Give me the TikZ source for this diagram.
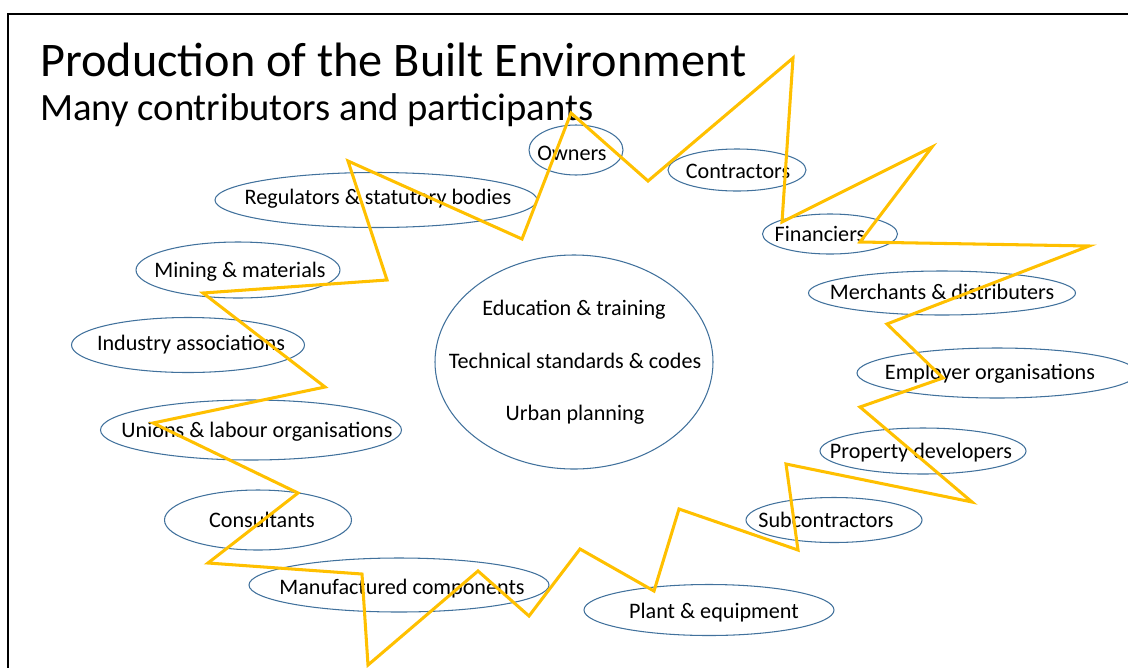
\documentclass[tikz,border=0pt]{standalone}
\usepackage{fontspec}
\setmainfont{Carlito}
\usetikzlibrary{shapes.geometric}
\definecolor{zigcolor}{RGB}{255,192,0}
\definecolor{ovalcolor}{RGB}{65,113,156}
\def\pxl{0.03cm}

\begin{document}
\begin{tikzpicture}[x=\pxl, y=-\pxl,
  party/.style={ellipse, draw=ovalcolor, line width=0.9pt, inner sep=0pt},
  who/.style={font=\fontsize{18.9}{22}\selectfont, inner sep=0pt, text height=1.3em, text depth=0pt},
  zig/.style={draw=zigcolor, line width=2.6pt}]
\useasboundingbox (0,0) rectangle (1128,667);

% slide frame
\draw[line width=2.2pt] (8,700) |- (1160,14);

% heading
\node[anchor=base west, inner sep=0pt, font=\fontsize{41.2}{48}\selectfont] (title) at (40,76) {Production of the Built Environment};
\node[anchor=base west, inner sep=0pt, font=\fontsize{33}{40}\selectfont] (subtitle) at (40,120) {Many contributors and participants};

% centre
\node[party, minimum width=278*\pxl, minimum height=214*\pxl] (core) at (574,362) {};
\node[who] (edu) at (574,308) {Education \& training};
\node[who] (std) at (575,361) {Technical standards \& codes};
\node[who] (urb) at (575,413) {Urban planning};

% participants round the centre
\node[party, minimum width=94*\pxl, minimum height=50*\pxl] (own) at (576,150) {};
\node[who] (owntxt) at (572,153) {Owners};
\node[party, minimum width=138*\pxl, minimum height=42*\pxl] (con) at (737,170) {};
\node[who] (contxt) at (738,171) {Contractors};
\node[party, minimum width=135*\pxl, minimum height=40*\pxl] (fin) at (830,234) {};
\node[who] (fintxt) at (820,234) {Financiers};
\node[party, minimum width=267*\pxl, minimum height=44*\pxl] (mer) at (942,293) {};
\node[who] (mertxt) at (942,292) {Merchants \& distributers};
\node[party, minimum width=280*\pxl, minimum height=50*\pxl] (emp) at (997,373) {};
\node[who] (emptxt) at (990,372) {Employer organisations};
\node[party, minimum width=206*\pxl, minimum height=46*\pxl] (dev) at (923,451) {};
\node[who] (devtxt) at (921,451) {Property developers};
\node[party, minimum width=176*\pxl, minimum height=45*\pxl] (sub) at (834,520) {};
\node[who] (subtxt) at (826,520) {Subcontractors};
\node[party, minimum width=250*\pxl, minimum height=51*\pxl] (pla) at (709,610) {};
\node[who] (platxt) at (714,611) {Plant \& equipment};
\node[party, minimum width=300*\pxl, minimum height=54*\pxl] (man) at (399,585) {};
\node[who] (mantxt) at (402,587) {Manufactured components};
\node[party, minimum width=187*\pxl, minimum height=60*\pxl] (cst) at (258,520) {};
\node[who] (csttxt) at (262,520) {Consultants};
\node[party, minimum width=301*\pxl, minimum height=60*\pxl] (uni) at (251,430) {};
\node[who] (unitxt) at (257,430) {Unions \& labour organisations};
\node[party, minimum width=233*\pxl, minimum height=55*\pxl] (ind) at (188,345) {};
\node[who] (indtxt) at (191,343) {Industry associations};
\node[party, minimum width=204*\pxl, minimum height=56*\pxl] (min) at (238,270) {};
\node[who] (mintxt) at (240,270) {Mining \& materials};
\node[party, minimum width=322*\pxl, minimum height=55*\pxl] (reg) at (376,200) {};
\node[who] (regtxt) at (378,197) {Regulators \& statutory bodies};

% zigzag over everything
\draw[zig] (793,58) -- (782,222) -- (932,147) -- (860,242) -- (1089,246)
  -- (887,324) -- (943,378) -- (860,407) -- (972,502) -- (786,464)
  -- (798,550) -- (679,509) -- (654,591) -- (580,549) -- (529,616)
  -- (478,571) -- (368,665) -- (362,574) -- (208,563) -- (298,493)
  -- (153,423) -- (325,387) -- (203,293) -- (387,280) -- (348,161)
  -- (522,239) -- (571,113) -- (648,181) -- cycle;
\end{tikzpicture}
\end{document}
